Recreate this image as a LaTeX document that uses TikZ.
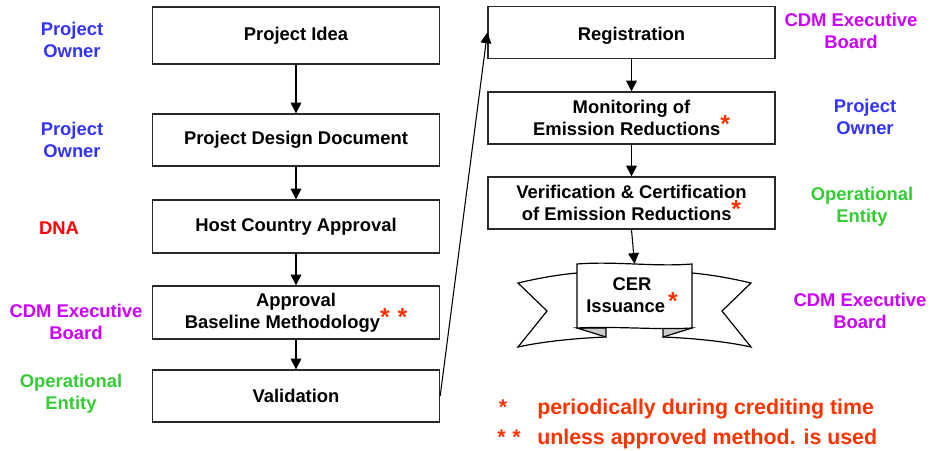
\documentclass[tikz,border=0pt]{standalone}
\usepackage{fontspec}
\setmainfont{Liberation Sans}
\usetikzlibrary{arrows.meta}
\definecolor{pblue}{RGB}{51,51,255}
\definecolor{pred}{RGB}{255,0,0}
\definecolor{pmag}{RGB}{204,0,255}
\definecolor{pgreen}{RGB}{51,204,51}
\definecolor{porange}{RGB}{255,51,0}
\definecolor{boxgray}{RGB}{40,40,40}
\definecolor{foldgray}{RGB}{204,204,204}
\newcommand{\fnast}{\textcolor{porange}{\smash{\raisebox{0.3ex}{\fontsize{18.5}{18}\selectfont *}}}}
\begin{document}
\begin{tikzpicture}[x=0.75pt,y=-0.75pt,
  font=\fontsize{13.8}{16.5}\selectfont\bfseries,
  box/.style={draw=boxgray, line width=1pt, fill=white, minimum width=215.25pt, inner sep=0pt, align=center},
  arr/.style={-{Triangle[width=8pt,length=8pt]}, line width=0.8pt},
  lbl/.style={align=center, inner sep=0pt},
  rib/.style={draw=black, line width=0.9pt, line join=miter}]
\useasboundingbox (0,0) rectangle (932,450);

% left column
\node[box, minimum height=42.75pt] (idea) at (296,35.5) {Project Idea};
\node[box, minimum height=39pt] (pdd) at (296,140) {Project Design Document};
\node[box, minimum height=39.75pt] (hca) at (296,226.5) {Host Country Approval};
\node[box, minimum height=39.75pt] (abm) at (296,312.5) {Approval\\ Baseline Methodology\fnast\hspace{6pt}\fnast};
\node[box, minimum height=39pt] (val) at (296,396) {Validation};

% right column
\node[box, minimum height=39pt] (reg) at (631.5,32.5) {};
\node[lbl] (regt) at ([yshift=-2.2pt]reg.center) {Registration};
\node[box, minimum height=39pt] (mon) at (631.5,118) {Monitoring of\\ Emission Reductions\fnast};
\node[box, minimum height=39pt] (ver) at (631.5,203) {Verification \& Certification\\ of Emission Reductions\fnast};

% ribbon
\fill[white] (577,273) .. controls (555,275) and (535,279) .. (518,283) -- (547,311) -- (518,347)
  .. controls (545,341) and (580,338) .. (606,337) -- (606,328) -- (577,328) -- cycle;
\draw[rib] (577,273) .. controls (555,275) and (535,279) .. (518,283) -- (547,311) -- (518,347)
  .. controls (545,341) and (580,338) .. (606,337);
\fill[white] (692,273) .. controls (714,275) and (734,279) .. (751,283) -- (722,311) -- (751,347)
  .. controls (724,341) and (689,338) .. (663,337) -- (663,328) -- (692,328) -- cycle;
\draw[rib] (692,273) .. controls (714,275) and (734,279) .. (751,283) -- (722,311) -- (751,347)
  .. controls (724,341) and (689,338) .. (663,337);
\filldraw[rib, fill=foldgray] (577,328) -- (606,328) -- (606,337) -- cycle;
\filldraw[rib, fill=foldgray] (692,328) -- (663,328) -- (663,337) -- cycle;
\node[lbl, minimum width=86.25pt, minimum height=48pt] (cer) at (634.5,296) {};
\filldraw[rib, fill=white] (577,264) .. controls (615,261) and (655,267) .. (692,264) -- (692,328)
  .. controls (655,330) and (615,326) .. (577,328) -- cycle;
\node[lbl] (certxt) at (632,295) {CER\\ Issuance\,\fnast};

% arrows
\draw[arr] (idea) -- (pdd);
\draw[arr] (pdd) -- (hca);
\draw[arr] (hca) -- (abm);
\draw[arr] (abm) -- (val);
\draw[arr] (val.east) -- (reg.west);
\draw[arr] (reg) -- (mon);
\draw[arr] (mon) -- (ver);
\draw[arr] (ver.south) -- (cer.north);

% left labels
\node[lbl, text=pblue] (l1) at (72,40) {Project\\ Owner};
\node[lbl, text=pblue] (l2) at (72,140) {Project\\ Owner};
\node[lbl, text=pred] (l3) at (59,228) {DNA};
\node[lbl, text=pmag] (l4) at (76,322) {CDM Executive\\ Board};
\node[lbl, text=pgreen] (l5) at (71,394) {Operational\\ Entity};

% right labels
\node[lbl, text=pmag] (r1) at (851,31) {CDM Executive\\ Board};
\node[lbl, text=pblue] (r2) at (865,117) {Project\\ Owner};
\node[lbl, text=pgreen] (r3) at (862,207) {Operational\\ Entity};
\node[lbl, text=pmag] (r4) at (860,311) {CDM Executive\\ Board};

% footnotes
\begin{scope}[every node/.style={text=porange, font=\fontsize{16}{16}\selectfont\bfseries, inner sep=0pt}]
\node[anchor=base] (s1) at (503,414) {*};
\node[anchor=base west] (f1) at (537,414) {periodically during crediting time};
\node[anchor=base] (s2) at (509,444) {*\hspace{5pt}*};
\node[anchor=base west] (f2) at (537,444) {unless approved method. is used};
\end{scope}
\end{tikzpicture}
\end{document}
